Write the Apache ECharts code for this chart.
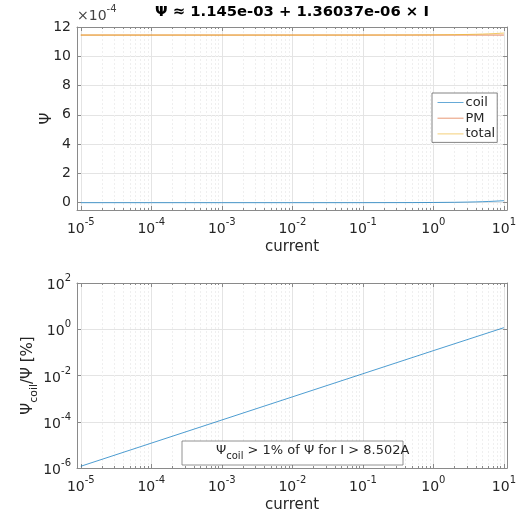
<!DOCTYPE html>
<html>
<head>
<meta charset="utf-8">
<script src="https://cdn.jsdelivr.net/npm/echarts@6/dist/echarts.min.js"></script>
<style>html,body{margin:0;padding:0;background:#fff;}#c{width:519px;height:514px;}</style>
</head>
<body>
<div id="c"></div>
<script>
// ---- data (top plot, Psi in units of 1e-4) ----
const current = [1e-5, 1e-4, 1e-3, 1e-2, 0.1, 0.5, 1, 2, 3, 4, 5, 6, 7, 8, 9, 10];
const coil  = [1.36e-7, 1.36e-6, 1.36e-5, 1.36e-4, 0.00136, 0.0068, 0.0136, 0.0272, 0.0408, 0.0544, 0.068, 0.0816, 0.0952, 0.109, 0.122, 0.136];
const pm    = [11.45, 11.45, 11.45, 11.45, 11.45, 11.45, 11.45, 11.45, 11.45, 11.45, 11.45, 11.45, 11.45, 11.45, 11.45, 11.45];
const total = [11.45, 11.45, 11.45, 11.45, 11.4514, 11.4568, 11.4636, 11.4772, 11.4908, 11.5044, 11.518, 11.5316, 11.5452, 11.559, 11.572, 11.586];
// ---- data (bottom plot) ----
const ratioCurrent = [1e-5, 1e-4, 1e-3, 1e-2, 0.1, 1, 10];
const ratioPct     = [1.19e-6, 1.19e-5, 1.19e-4, 1.19e-3, 1.19e-2, 0.119, 1.17];
// ---- ticks ----
const xTickExp = [-5, -4, -3, -2, -1, 0, 1];
const yTopTicks = [0, 2, 4, 6, 8, 10, 12];
const yBotTickExp = [-6, -4, -2, 0, 2];
const titleText = 'Ψ ≈ 1.145e-03 + 1.36037e-06 × I';
const noteText = ['Ψ', 'coil', ' > 1% of Ψ for I > 8.502A'];
const legendNames = ['coil', 'PM', 'total'];

const F = 'DejaVu Sans';
const TXT = '#262626';
const AX = '#8a8a8a';
const GRIDC = '#e4e4e4';
const MINC = '#efefef';
const XMIN = -5.054, XMAX = 1.045;
const COLORS = ['#0072BD', '#D95319', '#EDB120'];

const minorExp = [];
for (let d = -6; d <= 1; d++) for (let k = 2; k <= 9; k++) {
  const v = Math.log10(k) + d;
  if (v > XMIN && v < XMAX) minorExp.push(v);
}
const powRich = {
  b: {fontSize: 14, color: TXT, fontFamily: F, padding: [5, 0, 0, 0], verticalAlign: 'bottom'},
  s: {fontSize: 10, color: TXT, fontFamily: F, verticalAlign: 'top'}
};
const powFmt = v => '{b|10}{s|' + v + '}';

function xAxes(gi) {
  return [
    {type: 'value', gridIndex: gi, min: XMIN, max: XMAX, position: 'bottom',
     axisLine: {show: true, onZero: false, lineStyle: {color: AX, width: 1}},
     axisTick: {show: true, inside: true, length: 4, customValues: xTickExp, lineStyle: {color: AX}},
     axisLabel: {customValues: xTickExp, formatter: powFmt, rich: powRich, margin: 7},
     splitLine: {show: true, lineStyle: {color: GRIDC, width: 1}},
     name: 'current', nameLocation: 'middle', nameGap: 30,
     nameTextStyle: {fontSize: 15, color: TXT, fontFamily: F}},
    {type: 'value', gridIndex: gi, min: XMIN, max: XMAX, position: 'bottom',
     axisLine: {show: false, onZero: false},
     axisTick: {show: true, inside: true, length: 2, customValues: minorExp, lineStyle: {color: AX}},
     axisLabel: {show: false},
     splitLine: {show: true, lineStyle: {color: MINC, width: 1, type: [2, 2]}}},
    {type: 'value', gridIndex: gi, min: XMIN, max: XMAX, position: 'top',
     axisLine: {show: true, onZero: false, lineStyle: {color: AX, width: 1}},
     axisTick: {show: true, inside: true, length: 4, customValues: xTickExp, lineStyle: {color: AX}},
     axisLabel: {show: false}, splitLine: {show: false}},
    {type: 'value', gridIndex: gi, min: XMIN, max: XMAX, position: 'top',
     axisLine: {show: false, onZero: false},
     axisTick: {show: true, inside: true, length: 2, customValues: minorExp, lineStyle: {color: AX}},
     axisLabel: {show: false}, splitLine: {show: false}}
  ];
}

const xAxis = xAxes(0).concat(xAxes(1));
const yAxis = [
  {type: 'value', gridIndex: 0, min: -0.5, max: 12, position: 'left',
   axisLine: {show: true, onZero: false, lineStyle: {color: AX, width: 1}},
   axisTick: {show: true, inside: true, length: 4, customValues: yTopTicks, lineStyle: {color: AX}},
   axisLabel: {customValues: yTopTicks, fontSize: 14, color: TXT, fontFamily: F, margin: 6},
   splitLine: {show: true, lineStyle: {color: GRIDC, width: 1}},
   name: 'Ψ', nameLocation: 'middle', nameGap: 22, nameRotate: 90, nameMoveOverlap: false,
   nameTextStyle: {fontSize: 15, color: TXT, fontFamily: F}},
  {type: 'value', gridIndex: 0, min: -0.5, max: 12, position: 'right',
   axisLine: {show: true, onZero: false, lineStyle: {color: AX, width: 1}},
   axisTick: {show: true, inside: true, length: 4, customValues: yTopTicks, lineStyle: {color: AX}},
   axisLabel: {show: false}, splitLine: {show: false}},
  {type: 'value', gridIndex: 1, min: -6, max: 2, position: 'left',
   axisLine: {show: true, onZero: false, lineStyle: {color: AX, width: 1}},
   axisTick: {show: true, inside: true, length: 4, customValues: yBotTickExp, lineStyle: {color: AX}},
   axisLabel: {customValues: yBotTickExp, formatter: powFmt, rich: powRich, margin: 6},
   splitLine: {show: true, lineStyle: {color: GRIDC, width: 1}},
   name: '{n|Ψ}{sub|coil}{n|/Ψ [%]}', nameLocation: 'middle', nameGap: 37, nameRotate: 90, nameMoveOverlap: false,
   nameTextStyle: {rich: {
     n: {fontSize: 15, color: TXT, fontFamily: F, verticalAlign: 'top', padding: [0, 0, 4, 0]},
     sub: {fontSize: 11, color: TXT, fontFamily: F, verticalAlign: 'bottom'}}}},
  {type: 'value', gridIndex: 1, min: -6, max: 2, position: 'right',
   axisLine: {show: true, onZero: false, lineStyle: {color: AX, width: 1}},
   axisTick: {show: true, inside: true, length: 4, customValues: yBotTickExp, lineStyle: {color: AX}},
   axisLabel: {show: false}, splitLine: {show: false}}
];

const topSeries = [coil, pm, total].map((arr, i) => ({
  name: legendNames[i], type: 'line', xAxisIndex: 0, yAxisIndex: 0,
  data: current.map((c, j) => [Math.log10(c), arr[j]]),
  showSymbol: false, symbol: 'none', color: COLORS[i],
  lineStyle: {width: 0.7, color: COLORS[i]}, z: 5 + i
}));
const botSeries = {
  name: 'ratio', type: 'line', xAxisIndex: 4, yAxisIndex: 2,
  data: ratioCurrent.map((c, j) => [Math.log10(c), Math.log10(ratioPct[j])]),
  showSymbol: false, symbol: 'none', color: COLORS[0],
  lineStyle: {width: 0.7, color: COLORS[0]}, z: 5
};

const option = {
  animation: false,
  backgroundColor: '#fff',
  grid: [
    {left: 77, top: 27, width: 431, height: 183},
    {left: 77, top: 283, width: 431, height: 185}
  ],
  xAxis, yAxis,
  legend: {
    data: legendNames,
    orient: 'vertical', left: 432, top: 93,
    itemWidth: 26, itemHeight: 12, itemGap: 2.7,
    itemStyle: {opacity: 0},
    lineStyle: {width: 1, opacity: 0.6},
    padding: [3, 2, 2, 5], borderColor: '#666', borderWidth: 0.8, backgroundColor: '#fff',
    textStyle: {fontSize: 13, color: TXT, fontFamily: F, padding: [0, 0, 0, -3]}
  },
  series: topSeries.concat([botSeries]),
  graphic: [
    {type: 'text', left: 155, top: 5, style: {text: titleText, font: 'bold 14.8px "DejaVu Sans"', fill: '#000'}},
    {type: 'text', left: 77, top: 4, style: {
      text: '{b|×10}{s|-4}', rich: {
        b: {fontSize: 14, fill: '#444', fontFamily: F, padding: [5, 0, 0, 0], verticalAlign: 'bottom'},
        s: {fontSize: 10, fill: '#444', fontFamily: F, verticalAlign: 'top'}}}},
    {type: 'rect', shape: {x: 182, y: 441, width: 221, height: 24},
     style: {fill: '#fff', stroke: '#777', lineWidth: 0.8}, z: 20},
    {type: 'text', left: 216, top: 444, z: 21, style: {
      text: '{n|' + noteText[0] + '}{sub|' + noteText[1] + '}{n|' + noteText[2] + '}', rich: {
        n: {fontSize: 13, fill: TXT, fontFamily: F, verticalAlign: 'top', padding: [0, 0, 4, 0]},
        sub: {fontSize: 10, fill: TXT, fontFamily: F, verticalAlign: 'bottom'}}}}
  ]
};
const chart = echarts.init(document.getElementById('c'), null, {renderer: 'canvas'});
chart.setOption(option);
</script>
</body>
</html>
